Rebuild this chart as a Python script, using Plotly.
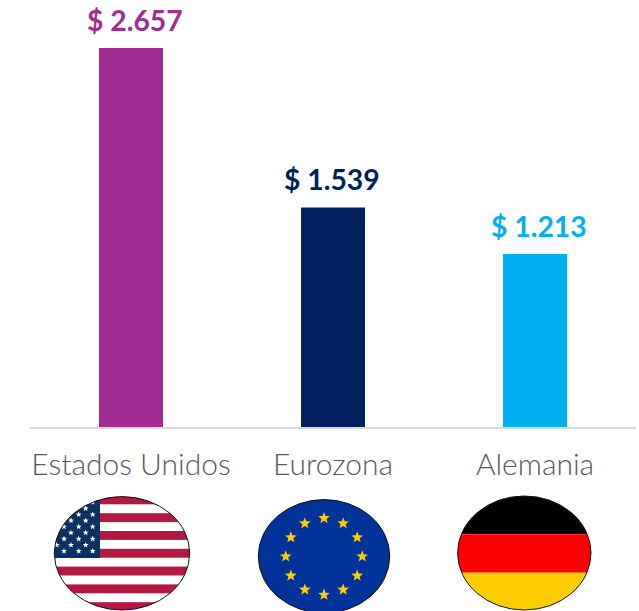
import base64
import math
import plotly.graph_objects as go

categories = ["Estados Unidos", "Eurozona", "Alemania"]
values = [2657, 1539, 1213]
value_labels = ["$ 2.657", "$ 1.539", "$ 1.213"]
bar_colors = ["#A02B93", "#002060", "#00B0F0"]
label_xshift = [4, -1.5, 3.5]

W, H = 639, 611
L, R, BASE = 30, 636, 427
Y_MAX = 427 / (379 / 2657)


def star(cx, cy, r, fill):
    pts = []
    for i in range(10):
        rad = r if i % 2 == 0 else r * 0.42
        a = -math.pi / 2 + i * math.pi / 5
        pts.append(f"{cx + rad * math.cos(a):.2f},{cy + rad * math.sin(a):.2f}")
    return f'<polygon points="{" ".join(pts)}" fill="{fill}"/>'


def flag_svg(x0, y0, x1, y1, cx, cy, rx, ry, body):
    w, h = x1 - x0, y1 - y0
    ex, ey = cx - x0, cy - y0
    svg = (
        f'<svg xmlns="http://www.w3.org/2000/svg" width="{w}" height="{h}" viewBox="0 0 {w} {h}">'
        f'<defs><clipPath id="c"><ellipse cx="{ex}" cy="{ey}" rx="{rx}" ry="{ry}"/></clipPath></defs>'
        f'<g clip-path="url(#c)">{body}</g>'
        f'<ellipse cx="{ex}" cy="{ey}" rx="{rx}" ry="{ry}" fill="none" stroke="#111" stroke-width="1"/>'
        "</svg>"
    )
    return "data:image/svg+xml;base64," + base64.b64encode(svg.encode()).decode()


def flag_image(x0, y0, x1, y1, source):
    return dict(
        source=source, xref="paper", yref="paper",
        x=(x0 - L) / (R - L), y=(BASE - y0) / BASE,
        sizex=(x1 - x0) / (R - L), sizey=(y1 - y0) / BASE,
        xanchor="left", yanchor="top", sizing="stretch", layer="above",
    )


# United States
ux0, uy0, ux1, uy1 = 50, 492, 194, 611
body = f'<rect width="{ux1-ux0}" height="{uy1-uy0}" fill="#fff"/>'
for k in range(0, 13, 2):
    body += f'<rect x="0" y="{495.4 - uy0 + k * 8.9:.2f}" width="{ux1-ux0}" height="8.9" fill="#B31942"/>'
body += f'<rect x="0" y="0" width="{100 - ux0}" height="{558 - uy0}" fill="#0A3161"/>'
for row in range(9):
    yy = 502.3 + row * 6.1 - uy0
    cols = [49.3, 64, 78.7, 92.7] if row % 2 == 0 else [56.7, 71, 85.7]
    for xx in cols:
        body += star(xx - ux0, yy, 3.1, "#fff")
us_src = flag_svg(ux0, uy0, ux1, uy1, 122, 553.3, 67.7, 56.7, body)

# Euro zone
ex0, ey0, ex1, ey1 = 254, 496, 394, 611
body = f'<rect width="{ex1-ex0}" height="{ey1-ey0}" fill="#003399"/>'
for i in range(12):
    a = i * math.pi / 6
    body += star(324 - ex0 + 38.3 * math.sin(a), 556.5 - ey0 - 38.3 * math.cos(a), 6.2, "#FFCC00")
eu_src = flag_svg(ex0, ey0, ex1, ey1, 324, 556.3, 65.7, 56.7, body)

# Germany
dx0, dy0, dx1, dy1 = 453, 492, 596, 611
fw = dx1 - dx0
body = (
    f'<rect width="{fw}" height="{534.3-dy0}" fill="#000"/>'
    f'<rect y="{534.3-dy0}" width="{fw}" height="38.4" fill="#F00"/>'
    f'<rect y="{572.7-dy0}" width="{fw}" height="{dy1-572.7}" fill="#FFCC00"/>'
)
de_src = flag_svg(dx0, dy0, dx1, dy1, 524.3, 553, 66.7, 57, body)

fig = go.Figure(
    go.Bar(
        x=categories,
        y=values,
        marker=dict(color=bar_colors, line=dict(width=0)),
        cliponaxis=False,
        width=64 / 202,
    )
)
annotations = [
    dict(
        x=c, y=v, xref="x", yref="y", text=f"<b>{t}</b>", showarrow=False,
        yanchor="bottom", yshift=9, xshift=dx,
        font=dict(color=col, size=28.3, family="Lato"),
    )
    for c, v, t, col, dx in zip(categories, values, value_labels, bar_colors, label_xshift)
]
fig.update_layout(
    width=W, height=H,
    margin=dict(l=L, r=W - R, t=0, b=H - BASE, autoexpand=False),
    paper_bgcolor="white", plot_bgcolor="white",
    showlegend=False,
    annotations=annotations,
    images=[
        flag_image(ux0, uy0, ux1, uy1, us_src),
        flag_image(ex0, ey0, ex1, ey1, eu_src),
        flag_image(dx0, dy0, dx1, dy1, de_src),
    ],
)
fig.update_xaxes(
    type="category", showline=True, linecolor="#D9D9D9", linewidth=2,
    ticks="", ticklabelstandoff=10, showgrid=False, zeroline=False,
    tickfont=dict(family="Lato", size=30, color="#595959", weight=300),
)
fig.update_yaxes(range=[0, Y_MAX], visible=False, showgrid=False, zeroline=False)
fig.write_html(
    "out.html",
    config={"displayModeBar": False},
    post_script="document.body.style.margin='0';",
)
